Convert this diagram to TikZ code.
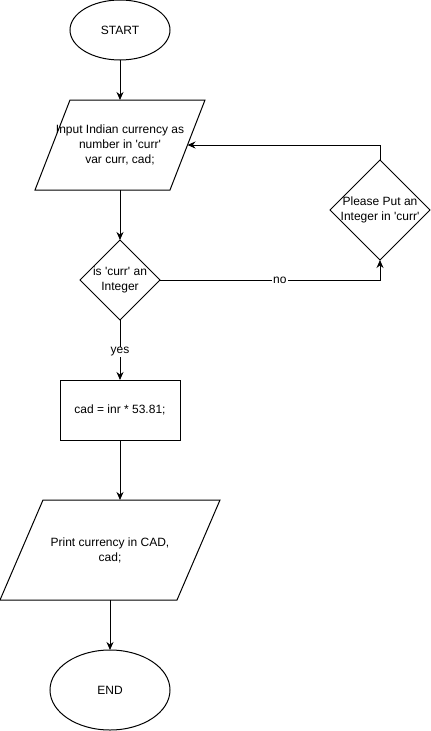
\documentclass[tikz,border=0pt]{standalone}
\usepackage{fontspec}
\setmainfont{Liberation Sans}
\usetikzlibrary{shapes.geometric,arrows.meta}
\newcommand{\sq}{\textquotesingle}
\begin{document}
\begin{tikzpicture}[x=1pt,y=-1pt,
  every node/.style={font=\fontsize{12}{15}\selectfont, text=black},
  base/.style={draw, line width=1pt, inner sep=0pt, outer sep=0pt},
  term/.style={base, ellipse},
  iotext/.style={inner sep=0pt, outer sep=0pt, align=center},
  outline/.style={line width=1pt, line join=miter},
  decision/.style={base, diamond},
  procbox/.style={base, rectangle},
  arr/.style={line width=1pt, -{Stealth[length=8pt,width=7pt]}},
  lbl/.style={fill=white, inner sep=1pt}
]
\useasboundingbox (0,0) rectangle (431,731);

\node[term, minimum width=100pt, minimum height=60pt] (start) at (120,30) {START};

\node[iotext, minimum width=170pt, minimum height=90pt] (input) at (120,145)
  {Input Indian currency as\\number in \sq curr\sq\\var curr, cad;};
\draw[outline] ([xshift=35pt]input.north west) -- (input.north east)
  -- ([xshift=-35pt]input.south east) -- (input.south west) -- cycle;
\coordinate (inputR) at ([xshift=-17.5pt]input.east);

\node[decision, minimum width=80pt, minimum height=80pt,
      label={[align=center]center:is \sq curr\sq{} an\\Integer}] (dec) at (120,280) {};
\node[decision, minimum width=100pt, minimum height=100pt,
      label={[align=center]center:Please Put an\\Integer in \sq curr\sq}] (please) at (380,210) {};
\node[procbox, minimum width=120pt, minimum height=60pt] (calc) at (120,410) {cad = inr * 53.81;};

\node[iotext, minimum width=220pt, minimum height=100pt] (print) at (110,550)
  {Print currency in CAD,\\cad;};
\draw[outline] ([xshift=43pt]print.north west) -- (print.north east)
  -- ([xshift=-43pt]print.south east) -- (print.south west) -- cycle;

\node[term, minimum width=120pt, minimum height=80pt] (end) at (110,690) {END};

\draw[arr] (start) -- (input);
\draw[arr] (input) -- (dec);
\draw[arr] (dec.east) -- node[lbl, pos=0.545]{no} (dec.east -| please.south) -- (please.south);
\draw[arr] (please.north) |- (inputR);
\draw[arr] (dec.south) -- node[lbl, yshift=-2pt]{yes} (calc.north);
\draw[arr] (calc.south) -- (calc.south |- print.north);
\draw[arr] (print.south) -- (end.north);
\end{tikzpicture}
\end{document}
